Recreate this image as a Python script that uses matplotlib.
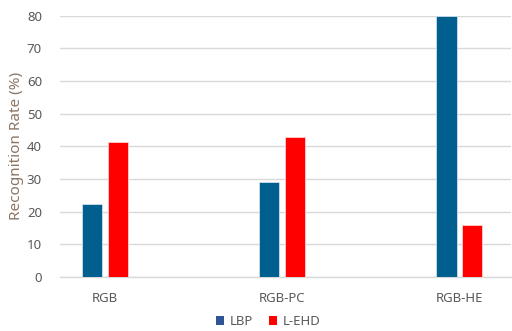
import matplotlib
matplotlib.use("Agg")
import matplotlib.pyplot as plt
import numpy as np
from matplotlib.patches import Patch

categories = ["RGB", "RGB-PC", "RGB-HE"]
series_names = ["LBP", "L-EHD"]
lbp = [22.5, 29.0, 79.8]
lehd = [41.4, 43.0, 15.8]
yticks = [0, 10, 20, 30, 40, 50, 60, 70, 80]

plt.rcParams['font.family'] = ['Noto Sans', 'DejaVu Sans']

W, H = 512, 331
fig = plt.figure(figsize=(W / 100, H / 100), dpi=100)
ax = fig.add_axes([60 / W, 1 - 277 / H, (511 - 60) / W, (277 - 15.7) / H])

x = np.arange(len(categories))
bw = 0.113
off = 0.073
bar_lbp = '#005F8F'
bar_red = '#FF0000'
ax.bar(x - off, lbp, width=bw, color=bar_lbp, edgecolor='#cfe0ea', linewidth=0.6, zorder=3)
ax.bar(x + off, lehd, width=bw, color=bar_red, edgecolor='#ffd0d0', linewidth=0.6, zorder=3)

ax.set_xlim(-0.254, 2.291)
ax.set_ylim(0, 80)
ax.set_yticks(yticks)
ax.set_yticklabels([str(v) for v in yticks])
ax.set_xticks(x)
ax.set_xticklabels(categories)
ax.grid(axis='y', color='#d9d9d9', linewidth=1.0, zorder=0)
for s in ['top', 'right', 'left']:
    ax.spines[s].set_visible(False)
ax.spines['bottom'].set_color('#d9d9d9')
ax.spines['bottom'].set_linewidth(1.0)
ax.tick_params(axis='both', length=0, labelsize=9.5, colors='#595959')
ax.tick_params(axis='y', pad=13)
ax.tick_params(axis='x', pad=11)
ax.set_ylabel("Recognition Rate (%)", fontsize=11, color='#8a7565', labelpad=2)

handles = [Patch(facecolor='#2F5597', edgecolor='none'), Patch(facecolor=bar_red, edgecolor='none')]
fig.legend(handles, series_names, loc='center', bbox_to_anchor=(268 / W, 1 - 321.5 / H),
           ncol=2, frameon=False, fontsize=9.5, handlelength=0.65, handleheight=0.65,
           handletextpad=0.4, columnspacing=1.2, labelcolor='#595959')

fig.savefig("out.png", dpi=100, facecolor='white')
